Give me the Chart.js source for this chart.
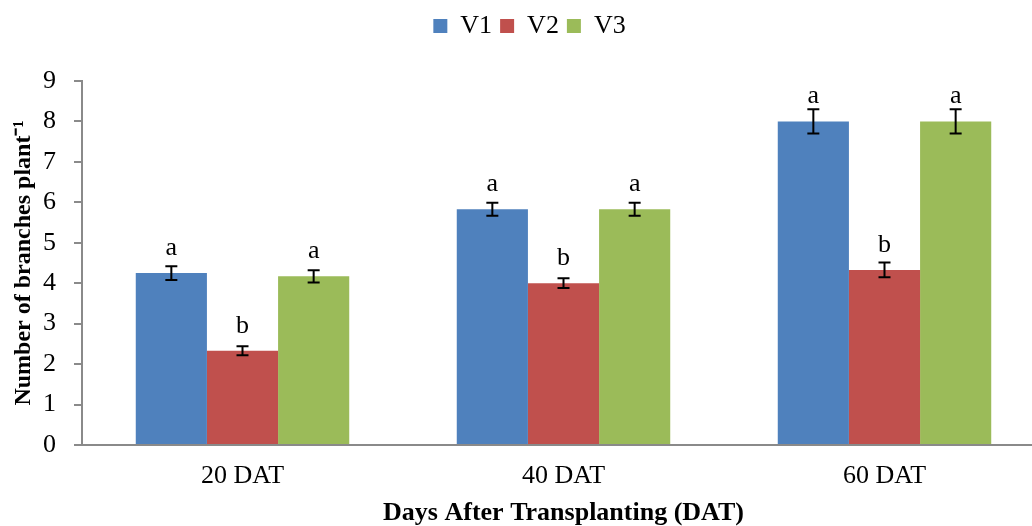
<!DOCTYPE html>
<html>
<head>
<meta charset="utf-8">
<script src="https://cdn.jsdelivr.net/npm/chart.js@4.4.1/dist/chart.umd.min.js"></script>
<style>
    html, body { margin: 0; padding: 0; background: #ffffff; overflow: hidden; }
    #wrap { width: 1032px; height: 526px; overflow: hidden; }
</style>
</head>
<body>
<div id="wrap"><canvas id="branchChart" width="1046" height="526"></canvas></div>
<script>
// Dati
const categories = ["20 DAT", "40 DAT", "60 DAT"];
const seriesNames = ["V1", "V2", "V3"];
const v1Values = [4.25, 5.83, 8.0];
const v2Values = [2.33, 4.0, 4.33];
const v3Values = [4.17, 5.83, 8.0];
const v1Errors = [0.17, 0.16, 0.30];
const v2Errors = [0.11, 0.12, 0.18];
const v3Errors = [0.15, 0.16, 0.30];
const v1Letters = ["a", "a", "a"];
const v2Letters = ["b", "b", "b"];
const v3Letters = ["a", "a", "a"];
const yTicks = [0, 1, 2, 3, 4, 5, 6, 7, 8, 9];

const serif = "'Liberation Serif', 'Times New Roman', serif";

// Spazio extra sotto la legenda
const legendSpacer = {
    id: "legendSpacer",
    beforeInit(chart) {
        const origFit = chart.legend.fit;
        chart.legend.fit = function fit() {
            origFit.bind(chart.legend)();
            this.height += 32;
        };
    }
};

// Barre di errore e lettere sopra le barre
const errorBarsPlugin = {
    id: "errorBars",
    afterDatasetsDraw(chart) {
        const ctx = chart.ctx;
        const yScale = chart.scales.y;
        chart.data.datasets.forEach((ds, i) => {
            const meta = chart.getDatasetMeta(i);
            meta.data.forEach((bar, j) => {
                const v = ds.data[j];
                const e = ds.errors[j];
                const top = yScale.getPixelForValue(v + e);
                const bottom = yScale.getPixelForValue(v - e);
                ctx.save();
                ctx.strokeStyle = "#000000";
                ctx.lineWidth = 2;
                ctx.beginPath();
                ctx.moveTo(bar.x, top);
                ctx.lineTo(bar.x, bottom);
                ctx.moveTo(bar.x - 6, top);
                ctx.lineTo(bar.x + 6, top);
                ctx.moveTo(bar.x - 6, bottom);
                ctx.lineTo(bar.x + 6, bottom);
                ctx.stroke();
                ctx.fillStyle = "#000000";
                ctx.font = "26px " + serif;
                ctx.textAlign = "center";
                ctx.textBaseline = "alphabetic";
                ctx.fillText(ds.letters[j], bar.x, bar.y - 18);
                ctx.restore();
            });
        });
    }
};

const ctx = document.getElementById("branchChart").getContext("2d");

new Chart(ctx, {
    type: "bar",
    data: {
        labels: categories,
        datasets: [
            { label: seriesNames[0], data: v1Values, errors: v1Errors, letters: v1Letters, backgroundColor: "#4F81BD" },
            { label: seriesNames[1], data: v2Values, errors: v2Errors, letters: v2Letters, backgroundColor: "#C0504D" },
            { label: seriesNames[2], data: v3Values, errors: v3Errors, letters: v3Letters, backgroundColor: "#9BBB59" }
        ]
    },
    options: {
        responsive: false,
        animation: false,
        layout: { padding: { left: 14, right: 1, top: 5, bottom: 0 } },
        datasets: {
            bar: { barPercentage: 1.0, categoryPercentage: 0.665 }
        },
        plugins: {
            legend: {
                display: true,
                position: "top",
                labels: {
                    boxWidth: 14,
                    boxHeight: 14,
                    padding: 8,
                    color: "#000000",
                    font: { family: serif, size: 26 }
                }
            },
            tooltip: { enabled: false }
        },
        scales: {
            x: {
                grid: { display: false, drawTicks: false },
                border: { display: true, color: "#8a8a8a", width: 2 },
                ticks: { color: "#000000", padding: 16, font: { family: serif, size: 26 } },
                title: {
                    display: true,
                    text: "Days After Transplanting (DAT)",
                    color: "#000000",
                    padding: { top: 0, bottom: 0 },
                    font: { family: serif, size: 26, weight: "bold", lineHeight: 1 }
                },
                afterFit(scale) { scale.height = 81; }
            },
            y: {
                min: 0,
                max: 9,
                afterBuildTicks(scale) { scale.ticks = yTicks.map(v => ({ value: v })); },
                grid: { drawOnChartArea: false, drawTicks: true, tickLength: 8, color: "#8a8a8a", lineWidth: 2 },
                border: { display: true, color: "#8a8a8a", width: 2 },
                ticks: { color: "#000000", padding: 18, font: { family: serif, size: 26 } },
                title: {
                    display: true,
                    text: "Number of branches plant\u207B\u00B9",
                    color: "#000000",
                    padding: { top: -2, bottom: 0 },
                    font: { family: serif, size: 24, weight: "bold", lineHeight: 1 }
                },
                afterFit(scale) { scale.width = 68; }
            }
        }
    },
    plugins: [legendSpacer, errorBarsPlugin]
});
</script>
</body>
</html>
